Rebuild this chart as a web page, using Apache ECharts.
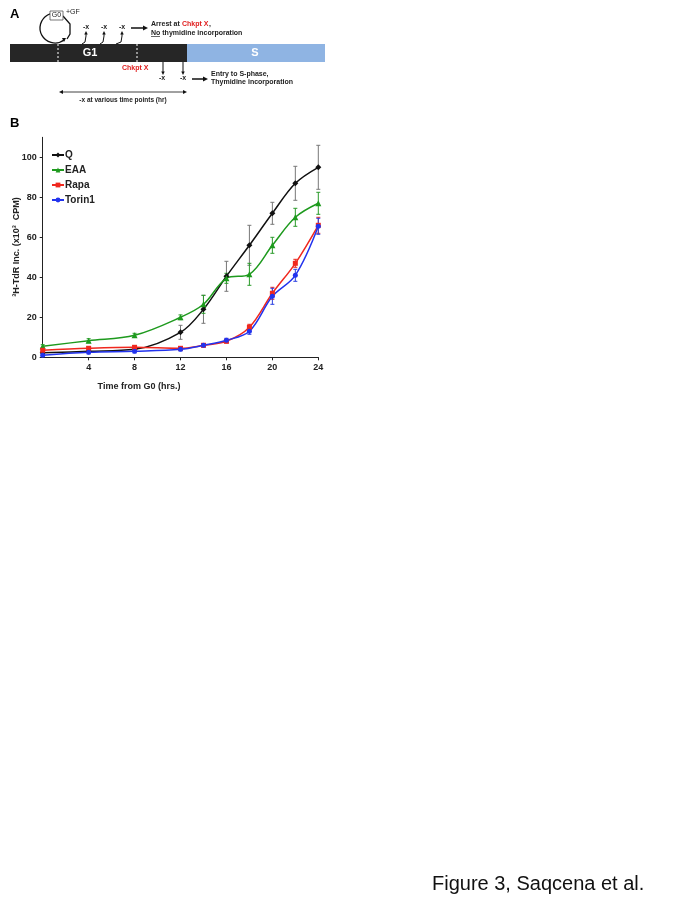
<!DOCTYPE html>
<html><head><meta charset="utf-8">
<script src="https://cdn.jsdelivr.net/npm/echarts@6/dist/echarts.min.js"></script>
<style>html,body{margin:0;padding:0;background:#fff}#c{width:683px;height:903px}</style>
</head><body><div id="c"></div>
<script>
const hours = [0, 4, 8, 12, 14, 16, 18, 20, 22, 24];
const seriesNames = ['Q', 'EAA', 'Rapa', 'Torin1'];
const qVals = [2.3, 3, 4, 12.5, 24, 40.5, 56, 72, 87, 95];
const qErr = [0.5, 0.5, 0.5, 3.5, 7, 7.5, 10, 5.5, 8.5, 11];
const eaaVals = [5.5, 8.3, 11, 20, 26.5, 39.5, 41.5, 56, 70, 77];
const eaaErr = [0.8, 1, 1, 1.2, 4.5, 2.5, 5.5, 4, 4.5, 5.5];
const rapaVals = [3.5, 4.5, 5, 4.5, 6, 8, 15, 32, 47, 66];
const rapaErr = [0.5, 0.8, 0.8, 0.8, 0.8, 0.8, 1.5, 3, 2, 4];
const torinVals = [1, 2.5, 3, 4, 6, 8.5, 13, 30.5, 41, 65.5];
const torinErr = [0.5, 0.8, 0.8, 0.8, 0.8, 1, 1.5, 4, 3, 4];
const xTicks = [4, 8, 12, 16, 20, 24];
const yTicks = [0, 20, 40, 60, 80, 100];

const chart = echarts.init(document.getElementById('c'));
const FONT = 'Liberation Sans, Arial, sans-serif';

function lineSeries(name, vals, color, symbol, size) {
  return {
    name, type: 'line', smooth: 0.35, symbol, symbolSize: size,
    data: hours.map((h, i) => [h, vals[i]]),
    lineStyle: {color, width: 1.5}, itemStyle: {color}, z: 3
  };
}
function errSeries(name, vals, errs, color) {
  return {
    name: name + ' error', type: 'custom', z: 2,
    data: hours.map((h, i) => [h, vals[i] - errs[i], vals[i] + errs[i]]),
    renderItem: function (params, api) {
      const lo = api.coord([api.value(0), api.value(1)]);
      const hi = api.coord([api.value(0), api.value(2)]);
      const w = 2;
      return {type: 'group', children: [
        {type: 'line', shape: {x1: lo[0], y1: lo[1], x2: hi[0], y2: hi[1]}, style: {stroke: color, lineWidth: 1}},
        {type: 'line', shape: {x1: lo[0]-w, y1: lo[1], x2: lo[0]+w, y2: lo[1]}, style: {stroke: color, lineWidth: 1}},
        {type: 'line', shape: {x1: hi[0]-w, y1: hi[1], x2: hi[0]+w, y2: hi[1]}, style: {stroke: color, lineWidth: 1}}
      ]};
    }
  };
}

// diagram helpers
function txt(x, y, t, opt) {
  return Object.assign({type: 'text', x, y, style: Object.assign({text: t, font: 'bold 7px ' + FONT, fill: '#222', textVerticalAlign: 'middle'}, opt || {})});
}
function arrowHead(x, y, dir, s) {
  s = s || 4;
  let pts;
  if (dir === 'up') pts = [[x, y], [x - s/2, y + s], [x + s/2, y + s]];
  else if (dir === 'down') pts = [[x, y], [x - s/2, y - s], [x + s/2, y - s]];
  else if (dir === 'right') pts = [[x, y], [x - s, y - s/2], [x - s, y + s/2]];
  else pts = [[x, y], [x + s, y - s/2], [x + s, y + s/2]];
  return {type: 'polygon', shape: {points: pts}, style: {fill: '#111'}};
}
function ln(pts, w) {
  return {type: 'polyline', shape: {points: pts}, style: {stroke: '#111', lineWidth: w || 1, fill: null}};
}
const gfx = [
  txt(10, 14, 'A', {font: 'bold 13px ' + FONT, fill: '#000'}),
  {type: 'rect', shape: {x: 10, y: 44, width: 177, height: 18}, style: {fill: '#262626'}},
  {type: 'rect', shape: {x: 187, y: 44, width: 138, height: 18}, style: {fill: '#8fb4e3'}},
  {type: 'line', shape: {x1: 58, y1: 44, x2: 58, y2: 62}, style: {stroke: '#fff', lineWidth: 1, lineDash: [2, 2]}},
  {type: 'line', shape: {x1: 137, y1: 44, x2: 137, y2: 62}, style: {stroke: '#fff', lineWidth: 1, lineDash: [2, 2]}},
  txt(90, 53, 'G1', {font: 'bold 11px ' + FONT, fill: '#fff', textAlign: 'center'}),
  txt(255, 53, 'S', {font: 'bold 11px ' + FONT, fill: '#fff', textAlign: 'center'}),
  // G0 loop
  {type: 'arc', shape: {cx: 55, cy: 28, r: 15, startAngle: -1.3, endAngle: 0.9, clockwise: false}, style: {stroke: '#111', lineWidth: 1.3, fill: null}},
  ln([[63, 16], [70, 24], [70, 34], [67, 39]], 1.3),
  arrowHead(64, 42, 'down', 4),
  {type: 'rect', shape: {x: 50, y: 11, width: 13, height: 9}, style: {fill: '#fff', stroke: '#555', lineWidth: 0.8}},
  txt(56.5, 15.5, 'G0', {font: '7px ' + FONT, textAlign: 'center'}),
  txt(66, 12, '+GF', {font: '7px ' + FONT}),
  // up arrows
  ln([[82, 44], [85, 42], [86, 36], [86, 34]]), arrowHead(86, 31, 'up', 3.5),
  ln([[100, 44], [103, 42], [104, 36], [104, 34]]), arrowHead(104, 31, 'up', 3.5),
  ln([[116, 44], [121, 42], [122, 36], [122, 34]]), arrowHead(122, 31, 'up', 3.5),
  txt(86, 27, '-x', {textAlign: 'center'}),
  txt(104, 27, '-x', {textAlign: 'center'}),
  txt(122, 27, '-x', {textAlign: 'center'}),
  ln([[131, 28], [145, 28]], 1.5), arrowHead(148, 28, 'right', 5),
  txt(151, 24, 'Arrest at ', {}),
  txt(182, 24, 'Chkpt X', {fill: '#e02020'}),
  txt(209, 24, ',', {}),
  txt(151, 33, 'No thymidine incorporation', {}),
  {type: 'line', shape: {x1: 151, y1: 36.5, x2: 160, y2: 36.5}, style: {stroke: '#222', lineWidth: 0.7}},
  txt(122, 68, 'Chkpt X', {fill: '#e02020'}),
  // down arrows
  ln([[163, 62], [163, 72]]), arrowHead(163, 75, 'down', 3.5),
  ln([[183, 62], [183, 72]]), arrowHead(183, 75, 'down', 3.5),
  txt(162, 78, '-x', {textAlign: 'center'}),
  txt(183, 78, '-x', {textAlign: 'center'}),
  ln([[192, 79], [205, 79]], 1.5), arrowHead(208, 79, 'right', 5),
  txt(211, 74, 'Entry to S-phase,', {}),
  txt(211, 82, 'Thymidine incorporation', {}),
  // double arrow
  ln([[62, 92], [184, 92]], 0.8), arrowHead(59, 92, 'left', 4), arrowHead(187, 92, 'right', 4),
  txt(123, 100, '-x at various time points (hr)', {textAlign: 'center', font: 'bold 6.5px ' + FONT}),
  txt(10, 123, 'B', {font: 'bold 13px ' + FONT, fill: '#000'}),
  // y axis title
  {type: 'text', x: 17, y: 247, rotation: Math.PI / 2, style: {text: '³H-TdR Inc. (x10³  CPM)', font: 'bold 9px ' + FONT, fill: '#222', textAlign: 'center', textVerticalAlign: 'middle'}},
  txt(139, 387, 'Time from G0 (hrs.)', {textAlign: 'center', font: 'bold 9px ' + FONT}),
  txt(432, 884, 'Figure 3, Saqcena et al.', {font: '20px ' + FONT, fill: '#111'})
];

chart.setOption({
  animation: false,
  backgroundColor: '#fff',
  grid: {left: 42.7, right: 364.7, top: 137.3, bottom: 545.7, containLabel: false},
  xAxis: {
    type: 'value', min: 0, max: 24, interval: 4,
    axisLine: {lineStyle: {color: '#222', width: 1}},
    axisTick: {show: true, length: 3, lineStyle: {color: '#222'}, customValues: xTicks},
    axisLabel: {customValues: xTicks, color: '#222', fontFamily: FONT, fontWeight: 'bold', fontSize: 9, margin: 6},
    splitLine: {show: false}
  },
  yAxis: {
    type: 'value', min: 0, max: 110, interval: 20,
    axisLine: {show: true, lineStyle: {color: '#222', width: 1}},
    axisTick: {show: true, length: 3, lineStyle: {color: '#222'}, customValues: yTicks},
    axisLabel: {customValues: yTicks, color: '#222', fontFamily: FONT, fontWeight: 'bold', fontSize: 9, margin: 6},
    splitLine: {show: false}
  },
  legend: {
    orient: 'vertical', left: 46, top: 145, itemGap: 5, itemWidth: 12, itemHeight: 6,
    data: seriesNames,
    textStyle: {fontFamily: FONT, fontWeight: 'bold', fontSize: 10, color: '#222', padding: [0, 0, 0, -4]}
  },
  graphic: gfx,
  series: [
    errSeries('Q', qVals, qErr, '#777'),
    errSeries('EAA', eaaVals, eaaErr, '#2a9a2a'),
    errSeries('Rapa', rapaVals, rapaErr, '#e8281e'),
    errSeries('Torin1', torinVals, torinErr, '#2a3fe0'),
    lineSeries('Q', qVals, '#111', 'diamond', 6),
    lineSeries('EAA', eaaVals, '#1e9a1e', 'triangle', 6),
    lineSeries('Rapa', rapaVals, '#f0281e', 'rect', 5),
    lineSeries('Torin1', torinVals, '#2233ee', 'circle', 5)
  ]
});
</script></body></html>
